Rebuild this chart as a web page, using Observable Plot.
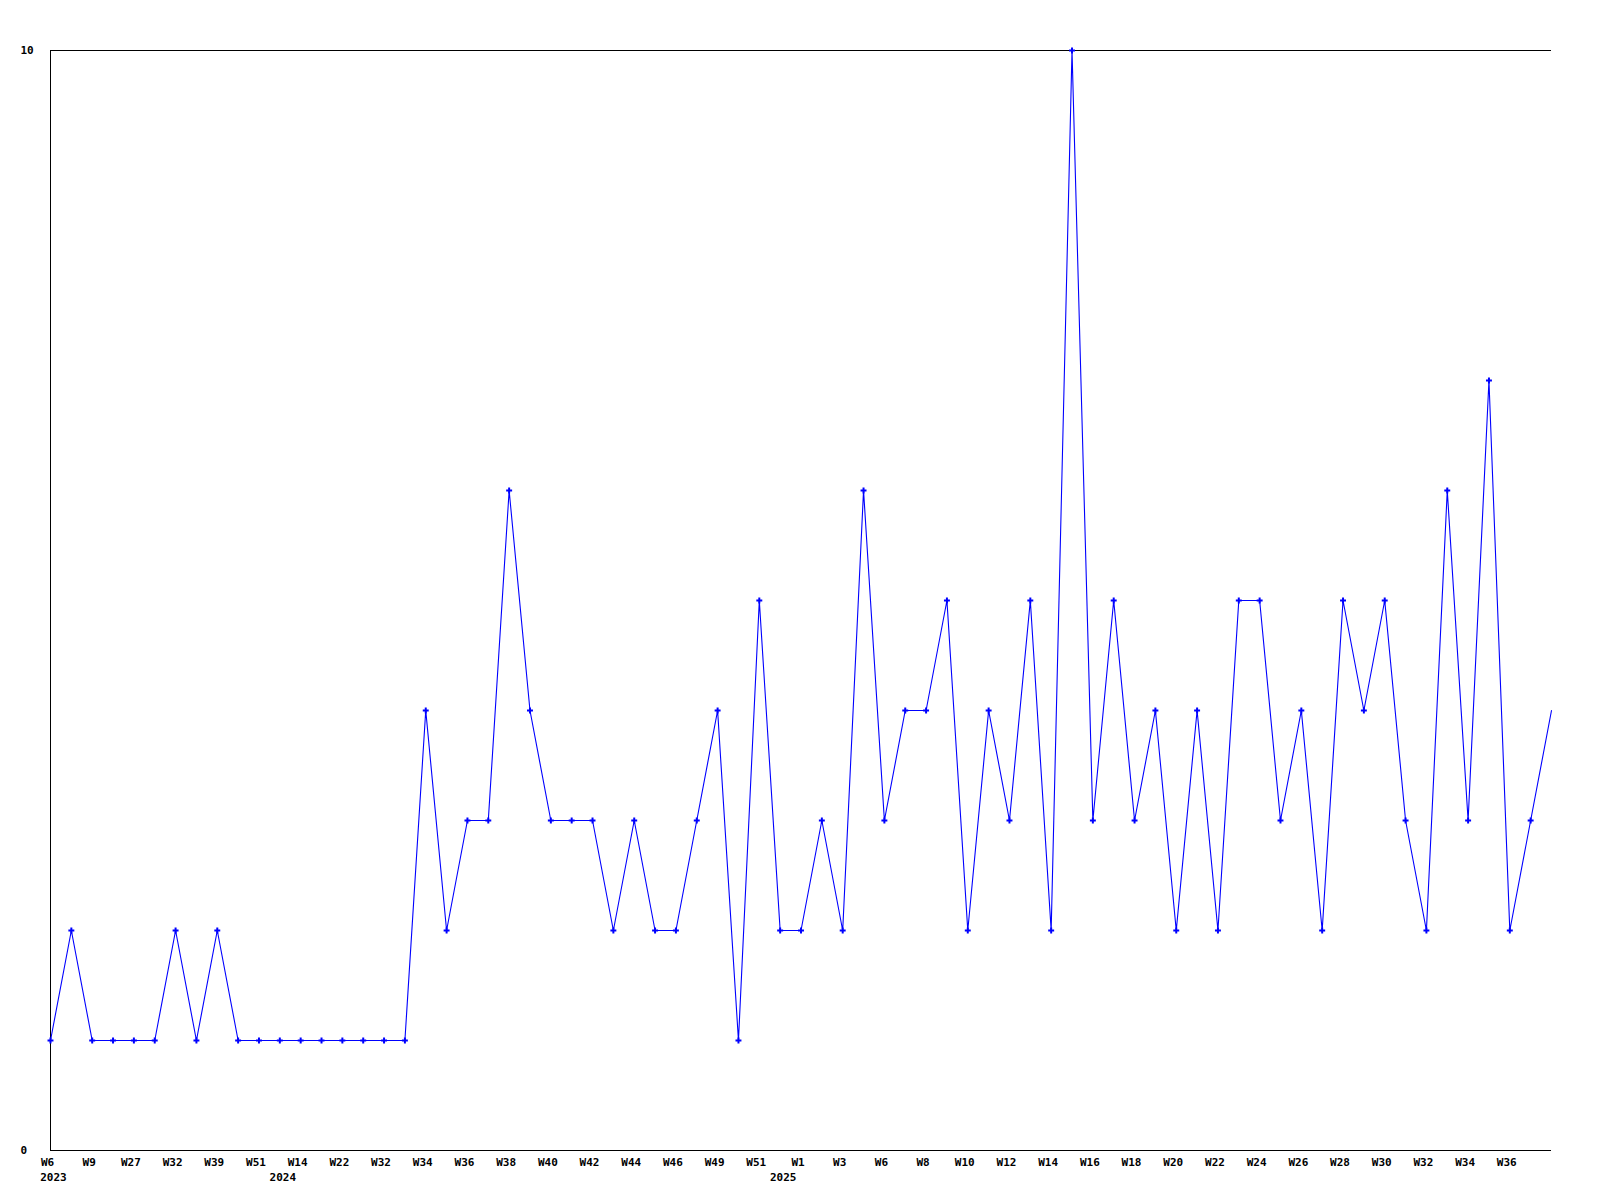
<!DOCTYPE html>
<html>
<head>
<meta charset="utf-8">
<script src="https://cdn.jsdelivr.net/npm/d3@7"></script>
<script src="https://cdn.jsdelivr.net/npm/@observablehq/plot@0.6"></script>
<style>
  html, body { margin: 0; padding: 0; background: #fff; }
  #chart svg { display: block; }
</style>
</head>
<body>
<div id="chart"></div>
<script>
// Weekly counts, one per plotted week (73 weeks)
const values = [
  1, 2, 1, 1, 1, 1, 2, 1, 2, 1,
  1, 1, 1, 1, 1, 1, 1, 1, 4, 2,
  3, 3, 6, 4, 3, 3, 3, 2, 3, 2,
  2, 3, 4, 1, 5, 2, 2, 3, 2, 6,
  3, 4, 4, 5, 2, 4, 3, 5, 2, 10,
  3, 5, 3, 4, 2, 4, 2, 5, 5, 3,
  4, 2, 5, 4, 5, 3, 2, 6, 3, 7,
  2, 3, 4
];

// Week labels shown under every second week
const weekTickLabels = [
  "W6", "W9", "W27", "W32", "W39", "W51", "W14", "W22", "W32", "W34",
  "W36", "W38", "W40", "W42", "W44", "W46", "W49", "W51", "W1", "W3",
  "W6", "W8", "W10", "W12", "W14", "W16", "W18", "W20", "W22", "W24",
  "W26", "W28", "W30", "W32", "W34", "W36"
];
const weekTickIndex = weekTickLabels.map((_, i) => i * 2);

// Year labels and the week index where each year starts
const yearLabels = ["2023", "2024", "2025"];
const yearIndex = [0, 11, 35];

const yTickValues = [0, 10];

const data = values.map((v, i) => ({i, v}));
const weekTicks = weekTickLabels.map((label, k) => ({i: weekTickIndex[k], label}));
const years = yearLabels.map((label, k) => ({i: yearIndex[k], label}));

const font = "bold 11px 'DejaVu Sans Mono', 'Liberation Mono', monospace";

const chart = Plot.plot({
  width: 1600,
  height: 1200,
  marginLeft: 50,
  marginRight: 49,
  marginTop: 50,
  marginBottom: 50,
  style: {font, background: "#fff", color: "#000"},
  x: {type: "linear", domain: [0, values.length - 1], axis: null},
  y: {domain: [0, 10], axis: null},
  marks: [
    Plot.ruleY(yTickValues, {stroke: "#000", strokeWidth: 1}),
    Plot.ruleX([0], {y1: 0, y2: 10, stroke: "#000", strokeWidth: 1}),
    Plot.line(data, {x: "i", y: "v", stroke: "#0000ff", strokeWidth: 1.1}),
    Plot.dot(data.slice(0, -1), {x: "i", y: "v", symbol: "cross", r: 2.5, fill: "#0000ff", stroke: "none"}),
    Plot.text(yTickValues, {
      y: d => d, text: d => String(d), frameAnchor: "left", dx: -30,
      textAnchor: "start", fill: "#000", fontWeight: "bold", fontSize: 11
    }),
    Plot.text(weekTicks, {
      x: "i", text: "label", frameAnchor: "bottom", dy: 12, dx: -3,
      lineAnchor: "middle", fill: "#000", fontWeight: "bold", fontSize: 11
    }),
    Plot.text(years, {
      x: "i", text: "label", frameAnchor: "bottom", dy: 27, dx: 3,
      lineAnchor: "middle", fill: "#000", fontWeight: "bold", fontSize: 11
    })
  ]
});
document.getElementById("chart").appendChild(chart);
</script>
</body>
</html>
